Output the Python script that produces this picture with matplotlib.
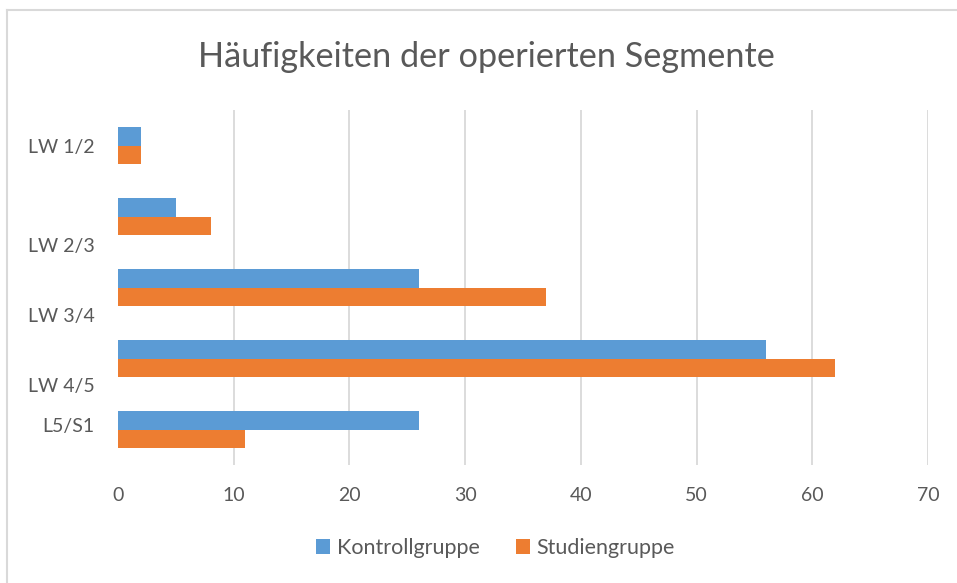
import matplotlib
matplotlib.use("Agg")
import matplotlib.pyplot as plt
from matplotlib.lines import Line2D
import numpy as np

plt.rcParams['font.family'] = ['Lato', 'DejaVu Sans']

# data
segmente = ["LW 1/2", "LW 2/3", "LW 3/4", "LW 4/5", "L5/S1"]
kontrolle = [2, 5, 26, 56, 26]
studie = [2, 8, 37, 62, 11]
# the labels sit a bit off their bar pairs in the original
label_shift = [0.0, 0.4, 0.39, 0.38, -0.06]

BLUE = "#5b9bd5"
ORANGE = "#ed7d31"
GREY = "#595959"

fig = plt.figure(figsize=(9.57, 5.83), dpi=100)
ax = fig.add_axes([118/957, 1 - 465/583, 810/957, 355/583])

y = np.arange(len(segmente))
h = 0.254
ax.barh(y - h/2, kontrolle, height=h, color=BLUE, label="Kontrollgruppe")
ax.barh(y + h/2, studie, height=h, color=ORANGE, label="Studiengruppe")

ax.set_xlim(0, 70)
ax.set_ylim(len(segmente) - 0.5, -0.5)
ax.set_xticks(range(0, 71, 10))
ax.set_yticks(y + np.array(label_shift))
ax.set_yticklabels(segmente)

# vertical gridlines, none at zero
for v in range(10, 71, 10):
    ax.axvline(v, color="#d9d9d9", lw=1.3, zorder=0)

for s in ax.spines.values():
    s.set_visible(False)
ax.tick_params(axis="both", length=0, colors=GREY, labelsize=14)
ax.tick_params(axis="x", pad=16)
ax.tick_params(axis="y", pad=17)

fig.text(0.508, 1 - 57/583, "Häufigkeiten der operierten Segmente",
         ha="center", va="center", fontsize=24.7, color=GREY)

leg = fig.legend(loc="center", bbox_to_anchor=(0.518, 1 - 548/583), ncol=2,
                 frameon=False, fontsize=15.5, handlelength=0.65, handleheight=0.65,
                 handletextpad=0.3, columnspacing=1.7)
for t in leg.get_texts():
    t.set_color(GREY)

# thin frame of the chart area: top and left only
fig.add_artist(Line2D([7/957, 1], [1 - 10/583, 1 - 10/583], color="#d9d9d9", lw=1.5))
fig.add_artist(Line2D([7/957, 7/957], [0, 1 - 10/583], color="#d9d9d9", lw=1.5))

fig.savefig("out.png", dpi=100)
